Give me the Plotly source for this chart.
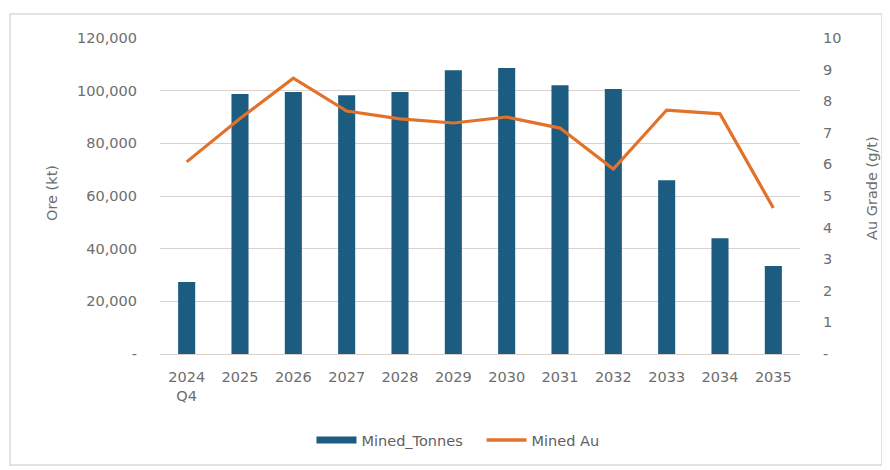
import plotly.graph_objects as go

categories = ["2024<br>Q4", "2025", "2026", "2027", "2028", "2029", "2030", "2031", "2032", "2033", "2034", "2035"]
mined_tonnes = [27300, 98700, 99500, 98300, 99500, 107800, 108600, 102100, 100600, 66000, 44000, 33400]
mined_au = [6.08, 7.45, 8.73, 7.69, 7.44, 7.31, 7.5, 7.15, 5.85, 7.72, 7.6, 4.62]

left_ticks = [0, 20000, 40000, 60000, 80000, 100000, 120000]
left_labels = ["-", "20,000", "40,000", "60,000", "80,000", "100,000", "120,000"]
right_ticks = list(range(0, 11))
right_labels = ["-"] + [str(i) for i in range(1, 11)]

FAM = "DejaVu Sans, sans-serif"
GREY = "#6e6e6e"
BLUE = "#1B5C80"
ORANGE = "#E2712A"
font = dict(family=FAM, size=14.5, color=GREY)

# plot area in figure pixels (page has 8px body margin)
L, R, T, B = 152, 98, 30, 124
W, H = 890, 470
PW, PH = W - L - R, H - T - B


def px(x):
    return (x - L) / PW


def py(y):
    return (H - B - y) / PH


fig = go.Figure()
fig.add_trace(go.Bar(x=categories, y=mined_tonnes, name="Mined_Tonnes", showlegend=False,
                     marker=dict(color=BLUE, line=dict(width=0)), yaxis="y"))
fig.add_trace(go.Scatter(x=categories, y=mined_au, name="Mined Au", mode="lines", showlegend=False,
                         line=dict(color=ORANGE, width=3.2), yaxis="y2"))
# legend entries
fig.add_trace(go.Scatter(x=[None], y=[None], name="Mined_Tonnes&nbsp;&nbsp;&nbsp;", mode="lines",
                         line=dict(color=BLUE, width=7)))
fig.add_trace(go.Scatter(x=[None], y=[None], name="Mined Au", mode="lines",
                         line=dict(color=ORANGE, width=3.5), yaxis="y2"))

fig.update_layout(
    width=W, height=H,
    margin=dict(l=L, r=R, t=T, b=B),
    paper_bgcolor="white", plot_bgcolor="white",
    font=font,
    bargap=0.68,
    showlegend=True,
    legend=dict(orientation="h", x=px(450), xanchor="center", y=py(432), yanchor="middle",
                font=dict(size=14.5, color="#5f5f5f", family=FAM), traceorder="normal",
                itemwidth=40, bgcolor="rgba(0,0,0,0)"),
    xaxis=dict(showgrid=False, showline=True, linecolor="#d9cfca", ticks="",
               ticklabelstandoff=10, tickfont=dict(size=14.5, color=GREY)),
    yaxis=dict(range=[0, 120000], tickvals=left_ticks, ticktext=left_labels,
               showgrid=True, gridcolor="#dcd2cd", gridwidth=1, zeroline=False,
               ticklabelstandoff=22),
    yaxis2=dict(range=[0, 10], tickvals=right_ticks, ticktext=right_labels, overlaying="y",
                side="right", showgrid=False, zeroline=False, ticklabelstandoff=22),
    annotations=[
        dict(text="Ore (kt)", xref="paper", yref="paper", x=px(44), y=py(185),
             textangle=-90, showarrow=False, xanchor="center", yanchor="middle",
             font=dict(size=14.5, color=GREY, family=FAM)),
        dict(text="Au Grade (g/t)", xref="paper", yref="paper", x=px(864), y=py(180),
             textangle=-90, showarrow=False, xanchor="center", yanchor="middle",
             font=dict(size=14.5, color=GREY, family=FAM)),
    ],
    shapes=[dict(type="rect", xref="paper", yref="paper",
                 x0=px(2), x1=px(874), y0=py(457), y1=py(6),
                 line=dict(color="#d9d9d9", width=1.5), fillcolor="rgba(0,0,0,0)", layer="below")],
)

fig.write_html("out.html")
